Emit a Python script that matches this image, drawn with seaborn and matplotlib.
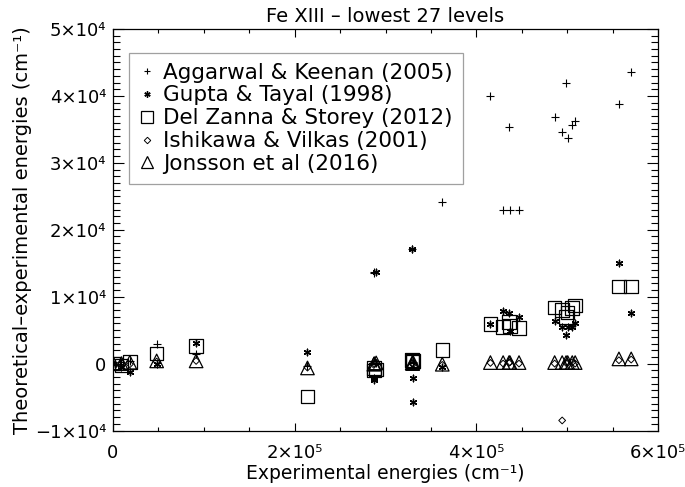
import numpy as np
import pandas as pd
import matplotlib
matplotlib.use("Agg")
import matplotlib.pyplot as plt
import seaborn as sns
from matplotlib.lines import Line2D
from matplotlib.ticker import MultipleLocator, FixedLocator, FixedFormatter

# ---------------- data ----------------
exp_energy = [0, 9302, 18561, 48068, 91508, 214100, 287200, 287600, 289700,
              329400, 329900, 330300, 362500, 415500, 429500, 436000, 437000,
              447000, 486200, 494500, 498800, 500600, 505600, 508800, 557000, 570500]

aggarwal = [200, 300, 400, 2900, 1500, -300, 13700, 13600, 100,
            17100, 200, 100, 24100, 40000, 22900, 35400, 22900,
            22900, 36800, 34600, 42000, 33700, 35700, 36200, 38800, 43500]
gupta = [0, -500, -1200, 0, 3100, 1800, -2500, -2200, 13700,
         17100, -2100, -5700, -500, 5900, 7900, 7500, 4800,
         7000, 6300, 5500, 4200, 5500, 5500, 6000, 15100, 7500]
delzanna = [0, -300, 200, 1500, 2600, -4900, -1000, -700, -900,
            500, 300, 400, 2000, 5900, 5500, 6200, 5600,
            5300, 8400, 8000, 7000, 7600, 8300, 8700, 11500, 11500]
ishikawa = [0, 100, -100, 300, 400, -600, -200, 0, 100,
            0, 100, -100, -200, 100, 0, 100, 200,
            0, 0, -8500, 100, 100, 200, 0, 500, 600]
jonsson = [100, 0, 200, 400, 400, -650, -100, 0, 100,
           100, 0, 200, -100, 150, 150, 150, 150,
           150, 150, 150, 150, 150, 150, 150, 700, 700]

series_names = ["Aggarwal & Keenan (2005)", "Gupta & Tayal (1998)",
                "Del Zanna & Storey (2012)", "Ishikawa & Vilkas (2001)",
                "Jonsson et al (2016)"]

xtick_values = [0, 200000, 400000, 600000]
xtick_labels = ["0", "2×10⁵", "4×10⁵", "6×10⁵"]
ytick_values = [-10000, 0, 10000, 20000, 30000, 40000, 50000]
ytick_labels = ["−1×10⁴", "0", "1×10⁴", "2×10⁴", "3×10⁴", "4×10⁴", "5×10⁴"]

title = "Fe XIII – lowest 27 levels"
xlabel = "Experimental energies (cm⁻¹)"
ylabel = "Theoretical–experimental energies (cm⁻¹)"

# ---------------- plot ----------------
sns.set_style("ticks")
plt.rcParams["font.family"] = ["DejaVu Sans"]
plt.rcParams["font.size"] = 12.5
for k in ["text.color", "axes.labelcolor", "xtick.color", "ytick.color", "axes.edgecolor"]:
    plt.rcParams[k] = "black"

fig = plt.figure(figsize=(6.85, 4.87), dpi=100)
ax = fig.add_axes([113/685, 1-430.5/487, 545/685, 401.5/487])

asterisk = (6, 2, 0)
styles = [
    dict(marker="+", s=40, linewidths=0.8, color="black"),
    dict(marker=asterisk, s=22, linewidths=1.0, color="black"),
    dict(marker="s", s=95, linewidths=0.9, facecolors="none", edgecolors="black"),
    dict(marker="D", s=12, linewidths=0.7, facecolors="none", edgecolors="black"),
    dict(marker="^", s=95, linewidths=0.9, facecolors="none", edgecolors="black"),
]
values = [aggarwal, gupta, delzanna, ishikawa, jonsson]
for name, vals, st in zip(series_names, values, styles):
    df = pd.DataFrame({"x": exp_energy, "y": vals})
    sns.scatterplot(data=df, x="x", y="y", ax=ax, legend=False, **st)

ax.set_xlim(0, 600000)
ax.set_ylim(-10000, 50000)
ax.xaxis.set_major_locator(FixedLocator(xtick_values))
ax.xaxis.set_major_formatter(FixedFormatter(xtick_labels))
ax.xaxis.set_minor_locator(MultipleLocator(50000))
ax.yaxis.set_major_locator(FixedLocator(ytick_values))
ax.yaxis.set_major_formatter(FixedFormatter(ytick_labels))
ax.yaxis.set_minor_locator(MultipleLocator(1000))

ax.tick_params(axis="x", which="major", direction="in", length=5.8, width=0.8,
               top=True, bottom=True, pad=10, labelsize=13)
ax.tick_params(axis="x", which="minor", direction="in", length=2.9, width=0.8,
               top=True, bottom=True)
ax.tick_params(axis="y", which="major", direction="in", length=8, width=0.8,
               left=True, right=True, pad=5, labelsize=13)
ax.tick_params(axis="y", which="minor", direction="in", length=4.8, width=0.8,
               left=True, right=True)
for sp in ax.spines.values():
    sp.set_visible(True)
    sp.set_linewidth(0.9)
    sp.set_color("black")

ax.set_xlabel(xlabel, fontsize=13.5, labelpad=1)
ax.set_ylabel(ylabel, fontsize=14, labelpad=2)
ax.set_title(title, fontsize=14, pad=5)

handles = [
    Line2D([], [], linestyle="none", marker="+", markersize=5, markeredgewidth=0.8, color="black"),
    Line2D([], [], linestyle="none", marker=asterisk, markersize=4.5, markeredgewidth=1.0, color="black"),
    Line2D([], [], linestyle="none", marker="s", markersize=9, markeredgewidth=0.9,
           markerfacecolor="none", markeredgecolor="black"),
    Line2D([], [], linestyle="none", marker="D", markersize=3.3, markeredgewidth=0.7,
           markerfacecolor="none", markeredgecolor="black"),
    Line2D([], [], linestyle="none", marker="^", markersize=9, markeredgewidth=0.9,
           markerfacecolor="none", markeredgecolor="black"),
]
leg = ax.legend(handles, series_names, loc="upper left",
                bbox_to_anchor=((129-113)/545, (430.5-53)/401.5),
                borderaxespad=0, frameon=True, fancybox=False,
                fontsize=15.5, handlelength=0.75, handletextpad=0.4,
                labelspacing=0.13, borderpad=0.45)
leg.get_frame().set_edgecolor("#888888")
leg.get_frame().set_linewidth(0.9)

fig.savefig("out.png", dpi=100)
